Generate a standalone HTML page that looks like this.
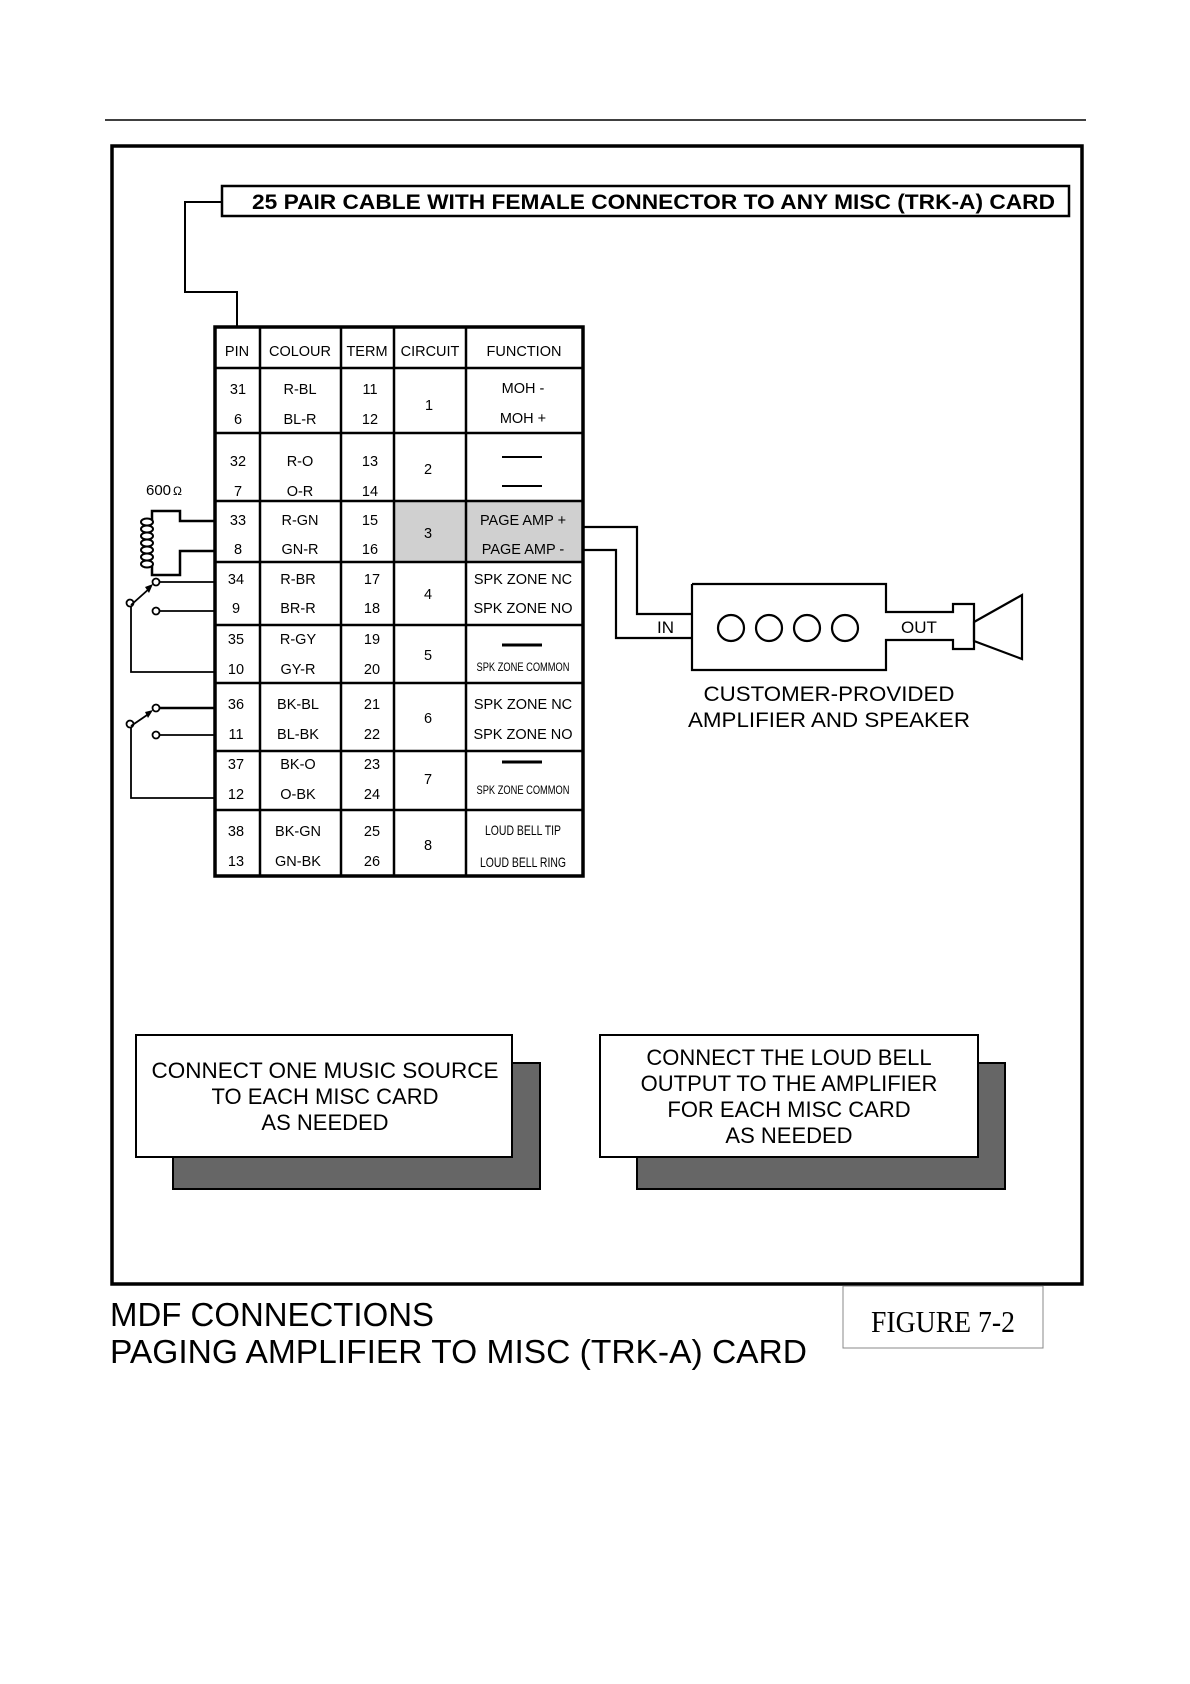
<!DOCTYPE html>
<html><head><meta charset="utf-8"><style>
html,body{margin:0;padding:0;background:#fff}
svg{display:block}
text{font-family:"Liberation Sans",Arial,sans-serif;fill:#000}
</style></head><body>
<svg width="1190" height="1684" viewBox="0 0 1190 1684" xmlns="http://www.w3.org/2000/svg">
<line x1="105" y1="120" x2="1086" y2="120" stroke="#000" stroke-width="1.5"/>
<rect x="112" y="146" width="970" height="1138" fill="none" stroke="#000" stroke-width="3.5"/>
<!-- title box -->
<rect x="222" y="186" width="847" height="30" fill="#fff" stroke="#000" stroke-width="2.5"/>
<text x="252" y="209" font-size="21" font-weight="bold" textLength="803" lengthAdjust="spacingAndGlyphs">25 PAIR CABLE WITH FEMALE CONNECTOR TO ANY MISC (TRK-A) CARD</text>
<polyline points="222,202 185,202 185,292 237,292 237,327" fill="none" stroke="#000" stroke-width="2"/>
<!-- table -->
<rect x="394" y="501" width="189" height="61" fill="#d0d0d0"/>
<rect x="215" y="327" width="368" height="549" fill="none" stroke="#000" stroke-width="3.5"/>
<g stroke="#000" stroke-width="2.5">
<line x1="260" y1="327" x2="260" y2="876"/><line x1="341" y1="327" x2="341" y2="876"/>
<line x1="394" y1="327" x2="394" y2="876"/><line x1="466" y1="327" x2="466" y2="876"/>
<line x1="215" y1="368" x2="583" y2="368"/><line x1="215" y1="433" x2="583" y2="433"/>
<line x1="215" y1="501" x2="583" y2="501"/><line x1="215" y1="562" x2="583" y2="562"/>
<line x1="215" y1="625" x2="583" y2="625"/><line x1="215" y1="683" x2="583" y2="683"/>
<line x1="215" y1="751" x2="583" y2="751"/><line x1="215" y1="810" x2="583" y2="810"/>
</g>
<g font-size="14.5" text-anchor="middle">
<text x="237" y="356">PIN</text><text x="300" y="356">COLOUR</text><text x="367" y="356">TERM</text><text x="430" y="356">CIRCUIT</text><text x="524" y="356">FUNCTION</text>
<text x="238" y="394">31</text><text x="300" y="394">R-BL</text><text x="370" y="394">11</text>
<text x="238" y="424">6</text><text x="300" y="424">BL-R</text><text x="370" y="424">12</text>
<text x="238" y="466">32</text><text x="300" y="466">R-O</text><text x="370" y="466">13</text>
<text x="238" y="496">7</text><text x="300" y="496">O-R</text><text x="370" y="496">14</text>
<text x="238" y="525">33</text><text x="300" y="525">R-GN</text><text x="370" y="525">15</text>
<text x="238" y="554">8</text><text x="300" y="554">GN-R</text><text x="370" y="554">16</text>
<text x="236" y="584">34</text><text x="298" y="584">R-BR</text><text x="372" y="584">17</text>
<text x="236" y="613">9</text><text x="298" y="613">BR-R</text><text x="372" y="613">18</text>
<text x="236" y="644">35</text><text x="298" y="644">R-GY</text><text x="372" y="644">19</text>
<text x="236" y="674">10</text><text x="298" y="674">GY-R</text><text x="372" y="674">20</text>
<text x="236" y="709">36</text><text x="298" y="709">BK-BL</text><text x="372" y="709">21</text>
<text x="236" y="739">11</text><text x="298" y="739">BL-BK</text><text x="372" y="739">22</text>
<text x="236" y="769">37</text><text x="298" y="769">BK-O</text><text x="372" y="769">23</text>
<text x="236" y="799">12</text><text x="298" y="799">O-BK</text><text x="372" y="799">24</text>
<text x="236" y="836">38</text><text x="298" y="836">BK-GN</text><text x="372" y="836">25</text>
<text x="236" y="866">13</text><text x="298" y="866">GN-BK</text><text x="372" y="866">26</text>
<text x="429" y="410">1</text><text x="428" y="474">2</text><text x="428" y="538">3</text><text x="428" y="599">4</text>
<text x="428" y="660">5</text><text x="428" y="723">6</text><text x="428" y="784">7</text><text x="428" y="850">8</text>
<text x="523" y="393">MOH -</text><text x="523" y="423">MOH +</text>
<text x="523" y="525">PAGE AMP +</text><text x="523" y="554">PAGE AMP -</text>
<text x="523" y="584">SPK ZONE NC</text><text x="523" y="613">SPK ZONE NO</text>
<text x="523" y="709">SPK ZONE NC</text><text x="523" y="739">SPK ZONE NO</text>
</g>
<g font-size="12" text-anchor="middle">
<text x="523" y="671" textLength="93" lengthAdjust="spacingAndGlyphs">SPK ZONE COMMON</text>
<text x="523" y="794" textLength="93" lengthAdjust="spacingAndGlyphs">SPK ZONE COMMON</text>
<text x="523" y="835" font-size="14" textLength="76" lengthAdjust="spacingAndGlyphs">LOUD BELL TIP</text>
<text x="523" y="867" font-size="14" textLength="86" lengthAdjust="spacingAndGlyphs">LOUD BELL RING</text>
</g>
<g stroke="#000">
<line x1="502" y1="457" x2="542" y2="457" stroke-width="2"/>
<line x1="502" y1="486" x2="542" y2="486" stroke-width="2"/>
<line x1="502" y1="645" x2="542" y2="645" stroke-width="3"/>
<line x1="502" y1="762" x2="542" y2="762" stroke-width="3"/>
</g>
<!-- inductor -->
<text x="146" y="495" font-size="15">600</text><text x="173" y="495" font-size="12">Ω</text>
<polyline points="216,521 180,521 180,511 152,511 152,520" fill="none" stroke="#000" stroke-width="2.5"/>
<polyline points="216,551 180,551 180,575 152,575 152,566" fill="none" stroke="#000" stroke-width="2.5"/>
<g fill="none" stroke="#000" stroke-width="2">
<ellipse cx="147" cy="522" rx="6" ry="3.5"/><ellipse cx="147" cy="529" rx="6" ry="3.5"/><ellipse cx="147" cy="536" rx="6" ry="3.5"/>
<ellipse cx="147" cy="543" rx="6" ry="3.5"/><ellipse cx="147" cy="550" rx="6" ry="3.5"/><ellipse cx="147" cy="557" rx="6" ry="3.5"/><ellipse cx="147" cy="564" rx="6" ry="3.5"/>
</g>
<!-- switches -->
<g fill="none" stroke="#000" stroke-width="1.8">
<line x1="159" y1="582" x2="216" y2="582"/><line x1="159" y1="611" x2="216" y2="611"/>
<line x1="131" y1="605" x2="150" y2="588"/>
<polyline points="131,606 131,672 216,672"/>
<circle cx="156" cy="582" r="3.5"/><circle cx="156" cy="611" r="3.5"/><circle cx="130" cy="603" r="3.5"/>
<line x1="159" y1="708" x2="216" y2="708" stroke-width="2.5"/><line x1="159" y1="735" x2="216" y2="735"/>
<line x1="131" y1="726" x2="150" y2="713"/>
<polyline points="131,727 131,798 216,798"/>
<circle cx="156" cy="708" r="3.5"/><circle cx="156" cy="735" r="3.5"/><circle cx="130" cy="724" r="3.5"/>
</g>
<polygon points="153,584 145,587 149,593" fill="#000"/>
<polygon points="153,710 145,712 148,718" fill="#000"/>
<!-- amp -->
<g fill="none" stroke="#000" stroke-width="2.2">
<polyline points="583,527 637,527 637,614 692,614"/>
<polyline points="583,550 616,550 616,638 692,638"/>
<polyline points="692,584 886,584 886,612 953,612 953,604 974,604 974,649 953,649 953,640 886,640 886,670 692,670 692,584"/>
<polygon points="974,622 1022,595 1022,659 974,641"/>
<circle cx="731" cy="628" r="13"/><circle cx="769" cy="628" r="13"/><circle cx="807" cy="628" r="13"/><circle cx="845" cy="628" r="13"/>
</g>
<text x="657" y="633" font-size="17">IN</text>
<text x="901" y="633" font-size="17">OUT</text>
<g font-size="21" text-anchor="middle">
<text x="829" y="701" textLength="251" lengthAdjust="spacingAndGlyphs">CUSTOMER-PROVIDED</text>
<text x="829" y="727" textLength="282" lengthAdjust="spacingAndGlyphs">AMPLIFIER AND SPEAKER</text>
</g>
<!-- note boxes -->
<rect x="173" y="1063" width="367" height="126" fill="#666" stroke="#000" stroke-width="2"/>
<rect x="136" y="1035" width="376" height="122" fill="#fff" stroke="#000" stroke-width="2"/>
<rect x="637" y="1063" width="368" height="126" fill="#666" stroke="#000" stroke-width="2"/>
<rect x="600" y="1035" width="378" height="122" fill="#fff" stroke="#000" stroke-width="2"/>
<g font-size="22" text-anchor="middle">
<text x="325" y="1078" textLength="347" lengthAdjust="spacingAndGlyphs">CONNECT ONE MUSIC SOURCE</text>
<text x="325" y="1104">TO EACH MISC CARD</text>
<text x="325" y="1130">AS NEEDED</text>
<text x="789" y="1065">CONNECT THE LOUD BELL</text>
<text x="789" y="1091">OUTPUT TO THE AMPLIFIER</text>
<text x="789" y="1117">FOR EACH MISC CARD</text>
<text x="789" y="1143">AS NEEDED</text>
</g>
<!-- caption -->
<text x="110" y="1326" font-size="33" textLength="324" lengthAdjust="spacingAndGlyphs">MDF CONNECTIONS</text>
<text x="110" y="1363" font-size="33" textLength="697" lengthAdjust="spacingAndGlyphs">PAGING AMPLIFIER TO MISC (TRK-A) CARD</text>
<rect x="843" y="1286" width="200" height="62" fill="none" stroke="#888" stroke-width="1"/>
<text x="871" y="1332" font-size="31" style="font-family:'Liberation Serif',serif" textLength="144" lengthAdjust="spacingAndGlyphs">FIGURE 7-2</text>
</svg>
</body></html>
